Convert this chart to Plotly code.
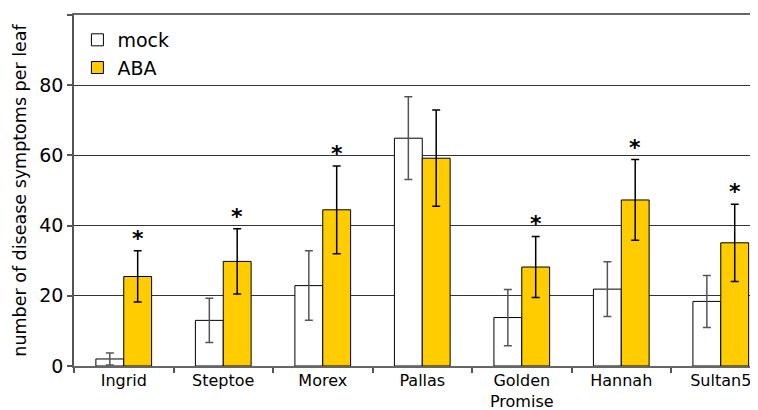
import plotly.graph_objects as go

categories = ["Ingrid", "Steptoe", "Morex", "Pallas", "Golden<br>Promise", "Hannah", "Sultan5"]
mock_values = [2.0, 13.0, 22.9, 64.9, 13.8, 21.9, 18.4]
mock_errors = [1.7, 6.3, 9.9, 11.8, 8.0, 7.8, 7.4]
aba_values = [25.5, 29.8, 44.5, 59.2, 28.2, 47.3, 35.1]
aba_errors = [7.3, 9.3, 12.5, 13.7, 8.7, 11.5, 11.0]
significant = [True, True, True, False, True, True, True]
y_ticks = [0, 20, 40, 60, 80, 100]
y_tick_labels = ["0", "20", "40", "60", "80", ""]

FONT = "DejaVu Sans, Verdana, sans-serif"
bargap = 0.44

fig = go.Figure()
fig.add_trace(go.Bar(
    name="mock", x=categories, y=mock_values,
    marker=dict(color="white", line=dict(color="black", width=1)),
    error_y=dict(type="data", array=mock_errors, color="#555555", thickness=1.5, width=4),
))
fig.add_trace(go.Bar(
    name="ABA", x=categories, y=aba_values,
    marker=dict(color="#FFCC00", line=dict(color="black", width=1)),
    error_y=dict(type="data", array=aba_errors, color="black", thickness=1.5, width=4),
))

bar_w = (1 - bargap) / 2
for i, (v, e, s) in enumerate(zip(aba_values, aba_errors, significant)):
    if s:
        fig.add_annotation(
            x=i + bar_w / 2, y=v + e, xref="x", yref="y",
            text="<b>*</b>", showarrow=False, yanchor="bottom", yshift=-2,
            font=dict(size=22, color="black", family=FONT),
        )

# page body has an 8px margin, so the figure is sized to fit the visible window
fig.update_layout(
    width=750, height=402,
    margin=dict(l=66, r=0, t=7, b=44),
    paper_bgcolor="white", plot_bgcolor="white",
    barmode="group", bargap=bargap, bargroupgap=0,
    font=dict(family=FONT, color="black"),
    showlegend=True,
    legend=dict(x=0.005, y=0.983, xanchor="left", yanchor="top",
                font=dict(size=19, family=FONT), bgcolor="rgba(0,0,0,0)",
                tracegroupgap=0),
)
fig.update_xaxes(
    range=[-0.5, 6.374], tickson="boundaries", ticks="outside", ticklen=5,
    tickcolor="#555555", tickwidth=1.5,
    showline=True, linecolor="#666666", linewidth=1.5, mirror=True,
    tickfont=dict(size=16, family=FONT), showgrid=False, automargin=False,
    ticklabelstandoff=-1,
)
fig.update_yaxes(
    range=[0, 100], tickvals=y_ticks, ticktext=y_tick_labels,
    ticks="outside", ticklen=5, tickcolor="#555555", tickwidth=1.5,
    showline=True, linecolor="#555555", linewidth=1.5,
    showgrid=True, gridcolor="#333333", gridwidth=1, zeroline=False,
    tickfont=dict(size=19, family=FONT), automargin=False,
    title=dict(text="number of disease symptoms per leaf", font=dict(size=17.5, family=FONT), standoff=8),
)

fig.write_html("out.html")
